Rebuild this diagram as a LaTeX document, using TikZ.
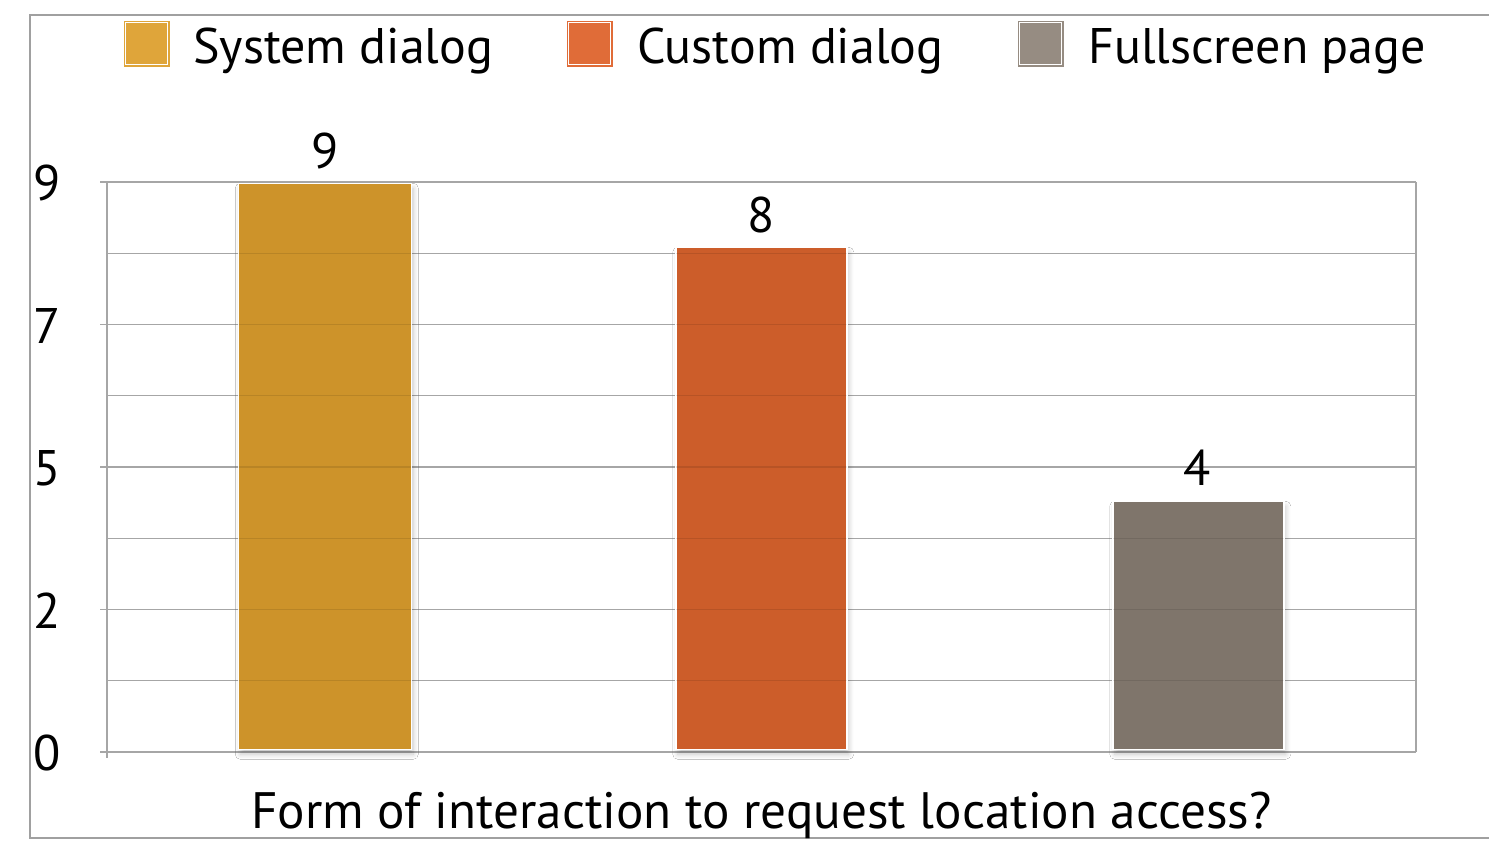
\documentclass[tikz,border=0pt]{standalone}
\usepackage{fontspec}
\setmainfont{PT Sans}
\usetikzlibrary{shadows.blur}
\definecolor{sysL}{RGB}{223,165,58}
\definecolor{cusL}{RGB}{224,108,56}
\definecolor{fulL}{RGB}{150,140,130}
\definecolor{sysB}{RGB}{205,147,42}
\definecolor{cusB}{RGB}{204,93,42}
\definecolor{fulB}{RGB}{127,117,107}
\definecolor{gridc}{RGB}{166,166,166}
\definecolor{framec}{RGB}{160,160,160}
\tikzset{
  big/.style={font=\fontsize{50}{60}\selectfont, inner sep=0pt},
  gridline/.style={draw=gridc, line width=1.3pt},
  framel/.style={draw=framec, line width=1.5pt},
  barbox/.style={draw=white, line width=1.5pt, inner sep=0pt, anchor=south west, minimum width=173pt,
     blur shadow={shadow xshift=2pt, shadow yshift=-5pt, shadow blur steps=8, shadow opacity=22, shadow blur radius=5pt}},
  legbox/.style={inner sep=0pt, minimum width=46pt, minimum height=46pt, anchor=north west},
}
\begin{document}
\begin{tikzpicture}[x=1pt,y=-1pt]
\useasboundingbox (0,0) rectangle (1489,844);
\fill[white] (0,0) rectangle (1489,844);
% outer frame
\draw[framel] (1489,15) -- (30,15) -- (30,838) -- (1489,838);
% grid
\foreach \k in {0,...,8} {
  \pgfmathsetmacro{\yy}{752-\k*71.25}
  \draw[gridline] (107,\yy) -- (1416,\yy);
}
\foreach \k in {0,2,4,6,8} {
  \pgfmathsetmacro{\yy}{752-\k*71.25}
  \draw[gridline] (100,\yy) -- (107,\yy);
}
\draw[gridline] (107,182) -- (107,758);
\draw[gridline] (1416,182) -- (1416,752);
% y labels
\node[big, anchor=base west] (y9) at (33,200) {9};
\node[big, anchor=base west] (y7) at (33,343) {7};
\node[big, anchor=base west] (y5) at (33,485) {5};
\node[big, anchor=base west] (y2) at (33,628) {2};
\node[big, anchor=base west] (y0) at (33,770) {0};
% bars
\node[barbox, fill=sysB, minimum height=566pt] (bar1) at (237.5,750) {};
\node[barbox, fill=cusB, minimum height=502pt, minimum width=171pt] (bar2) at (675,750) {};
\node[barbox, fill=fulB, minimum height=248pt, minimum width=171pt] (bar3) at (1112,750) {};
% gridlines seen through the bars
\foreach \b in {bar1,bar2,bar3} {
  \begin{scope}
    \clip ([shift={(1pt,1pt)}]\b.south west) rectangle ([shift={(-1pt,-1pt)}]\b.north east);
    \foreach \k in {1,...,8} {
      \pgfmathsetmacro{\yy}{752-\k*71.25}
      \draw[black, opacity=0.1, line width=1.3pt] (107,\yy) -- (1416,\yy);
    }
  \end{scope}
}
% data labels
\node[big, anchor=base] (v1) at (325,168) {9};
\node[big, anchor=base] (v2) at (761,232) {8};
\node[big, anchor=base] (v3) at (1197,485) {4};
% legend
\node[legbox, fill=sysL] (l1) at (124,21) {};
\draw[white, line width=1pt] ([shift={(1.5pt,-1.5pt)}]l1.north west) rectangle ([shift={(-2.5pt,2.5pt)}]l1.south east);
\node[big, anchor=base west] (t1) at (193,63) {System dialog};
\node[legbox, fill=cusL] (l2) at (567,21) {};
\draw[white, line width=1pt] ([shift={(1.5pt,-1.5pt)}]l2.north west) rectangle ([shift={(-2.5pt,2.5pt)}]l2.south east);
\node[big, anchor=base west] (t2) at (637,63) {Custom dialog};
\node[legbox, fill=fulL] (l3) at (1018,21) {};
\draw[white, line width=1pt] ([shift={(1.5pt,-1.5pt)}]l3.north west) rectangle ([shift={(-2.5pt,2.5pt)}]l3.south east);
\node[big, anchor=base west] (t3) at (1088,63) {Fullscreen page};
% axis title
\node[big, font=\fontsize{51.2}{60}\selectfont, anchor=base] (title) at (761.5,828) {Form of interaction to request location access?};
\end{tikzpicture}
\end{document}
